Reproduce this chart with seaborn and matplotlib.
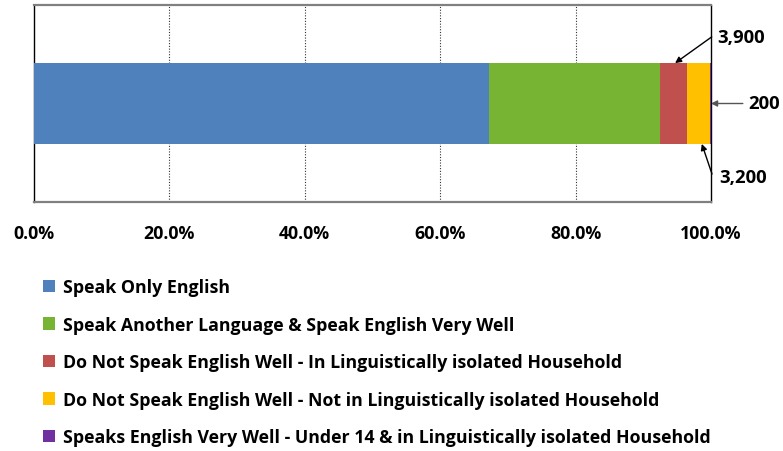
import matplotlib
matplotlib.use("Agg")
import matplotlib.pyplot as plt
import seaborn as sns
import pandas as pd
import numpy as np
from matplotlib.patches import Patch
from matplotlib.ticker import FuncFormatter

categories = [
    "Speak Only English",
    "Speak Another Language & Speak English Very Well",
    "Do Not Speak English Well - In Linguistically isolated Household",
    "Do Not Speak English Well - Not in Linguistically isolated Household",
    "Speaks English Very Well - Under 14 & in Linguistically isolated Household",
]
counts = [65300, 24500, 3900, 3200, 200]
colors = ["#4F81BD", "#78B433", "#C0504D", "#FFC000", "#7030A0"]
tick_values = [0, 20, 40, 60, 80, 100]
annot_labels = ["3,900", "200", "3,200"]

sns.set_theme(style="white")
FAM = ["Open Sans", "DejaVu Sans"]
plt.rcParams["font.family"] = FAM
plt.rcParams["font.weight"] = "bold"
plt.rcParams["text.color"] = "black"
plt.rcParams["xtick.color"] = "black"

total = sum(counts)
pct = [c / total * 100 for c in counts]
cum = np.cumsum(pct)
df = pd.DataFrame({"cat": categories, "pct": pct, "cum": cum, "row": [""] * len(categories)})

fig = plt.figure(figsize=(7.83, 4.52), dpi=100)
ax = fig.add_axes([34 / 783, 1 - 203 / 452, 677 / 783, 197 / 452])

# stacked bar: draw cumulative bars from the largest to the smallest
for i in range(len(categories) - 1, -1, -1):
    sns.barplot(data=df.iloc[[i]], x="cum", y="row", orient="h", color=colors[i],
                width=0.41, saturation=1, ax=ax, linewidth=0, zorder=3)

ax.set_xlim(0, 100)
ax.set_ylim(0.5, -0.5)
ax.set_xticks(tick_values)
ax.xaxis.set_major_formatter(FuncFormatter(lambda v, p: f"{v:.1f}%"))
ax.tick_params(axis="x", length=0, pad=16, colors="black")
for lab in ax.get_xticklabels():
    lab.set_fontweight("bold")
    lab.set_fontsize(12.8)
    lab.set_family(FAM)
ax.set_yticks([])
ax.set_xlabel("")
ax.set_ylabel("")
for v in tick_values[1:-1]:
    ax.axvline(v, color="#333333", linestyle=(0, (1, 1.5)), linewidth=0.8, zorder=1)

ax.spines["left"].set_color("black")
ax.spines["left"].set_linewidth(1.0)
ax.spines["right"].set_color("black")
ax.spines["right"].set_linewidth(1.0)
for s in ["top", "bottom"]:
    ax.spines[s].set_color("#808080")
    ax.spines[s].set_linewidth(1.6)

txt_kw = dict(fontsize=13.3, fontweight="bold", family=FAM, color="black", clip_on=False)
arrow_kw = dict(arrowstyle="-|>", color="black", lw=1.0, mutation_scale=9,
                shrinkA=0, shrinkB=0)
# 3,900 -> red segment
ax.annotate("", xy=(cum[2] - pct[2] * 0.45, -0.205), xycoords="data",
            xytext=(1.001, 0.838), textcoords="axes fraction", arrowprops=arrow_kw,
            annotation_clip=False)
ax.text(1.009, 0.838, annot_labels[0], transform=ax.transAxes, ha="left", va="center", **txt_kw)
# 200 -> purple segment
ax.annotate("", xy=(cum[4], 0.0), xycoords="data",
            xytext=(1.047, 0.0), textcoords=("axes fraction", "data"),
            arrowprops=dict(arrow_kw, color="#555555"), annotation_clip=False)
ax.text(1.0546, 0.0, annot_labels[1], transform=ax.get_yaxis_transform(), ha="left",
        va="center", **txt_kw)
# 3,200 -> yellow segment
ax.annotate("", xy=(cum[3] - pct[3] * 0.35, 0.205), xycoords="data",
            xytext=(1.0015, 0.142), textcoords="axes fraction", arrowprops=arrow_kw,
            annotation_clip=False)
ax.text(1.012, 0.127, annot_labels[2], transform=ax.transAxes, ha="left", va="center", **txt_kw)

handles = [Patch(facecolor=c, edgecolor="none") for c in colors]
fig.legend(handles, categories, loc="upper left", bbox_to_anchor=(43 / 783, 1 - 279 / 452),
           frameon=False, prop={"family": FAM, "weight": "bold", "size": 12.8},
           handlelength=0.7, handleheight=0.7, handletextpad=0.4, labelspacing=1.1,
           borderpad=0, borderaxespad=0, labelcolor="black")

fig.savefig("out.png", dpi=100)
